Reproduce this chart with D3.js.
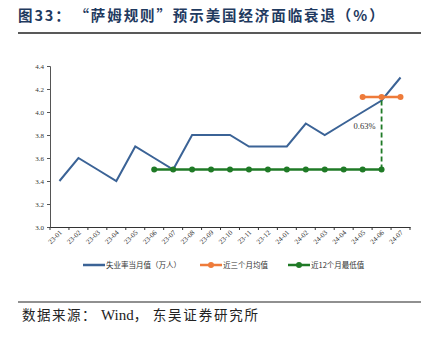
<!DOCTYPE html>
<html><head><meta charset="utf-8">
<script src="https://cdn.jsdelivr.net/npm/d3@7"></script>
<style>body{margin:0;background:#fff}svg{display:block}</style>
</head><body>
<script>
const categories = ["23-01","23-02","23-03","23-04","23-05","23-06","23-07","23-08","23-09","23-10","23-11","23-12","24-01","24-02","24-03","24-04","24-05","24-06","24-07"];
const unemployment = [3.4,3.6,3.5,3.4,3.7,3.6,3.5,3.8,3.8,3.8,3.7,3.7,3.7,3.9,3.8,3.9,4.0,4.1,4.3];
const avg3Cats = ["24-05","24-06","24-07"];
const avg3Vals = [4.13,4.13,4.13];
const min12Cats = ["23-06","23-07","23-08","23-09","23-10","23-11","23-12","24-01","24-02","24-03","24-04","24-05","24-06"];
const min12Vals = [3.5,3.5,3.5,3.5,3.5,3.5,3.5,3.5,3.5,3.5,3.5,3.5,3.5];
const yTicks = [3.0,3.2,3.4,3.6,3.8,4.0,4.2,4.4];
const legendLabels = ["失业率当月值（万人）","近三个月均值","近12个月最低值"];
const gapLabel = "0.63%";

const W=436,H=341;
const svg=d3.select("body").append("svg").attr("width",W).attr("height",H);
const blue="#3b6396", orange="#ee7b3a", green="#1f7a26";
const serif="'Liberation Serif','DejaVu Serif',serif";
const cjk="'Noto Sans CJK SC',sans-serif";

// title
const title=svg.append("text").attr("x",18).attr("y",21).attr("font-family",cjk)
  .attr("font-size",14.5).attr("font-weight","bold").attr("fill","#1f3a5f").attr("letter-spacing",1.9);
title.append("tspan").text("图33：");
title.append("tspan").attr("dx",10).text("“萨姆规则”预示美国经济面临衰退（%）");
svg.append("line").attr("x1",18).attr("x2",421).attr("y1",33).attr("y2",33).attr("stroke","#222").attr("stroke-width",1.5);

const x=d3.scaleBand().domain(categories).range([50,410]);
const y=d3.scaleLinear().domain([3.0,4.4]).range([227,66]);
const cx=c=>x(c)+x.bandwidth()/2;

// y axis
const ya=svg.append("g").attr("transform","translate(50,0)")
  .call(d3.axisLeft(y).tickValues(yTicks).tickFormat(d3.format(".1f")).tickSize(3));
ya.select(".domain").attr("stroke","#555");
ya.selectAll(".tick line").attr("stroke","#555");
ya.selectAll("text").attr("font-family",serif).attr("font-size",7).style("fill","#333");

// x axis
const xa=svg.append("g").attr("transform","translate(0,227)")
  .call(d3.axisBottom(x).tickSize(0));
xa.select(".domain").attr("stroke","#333");
xa.selectAll(".tick line").remove();
xa.selectAll(".tick text").attr("font-family",serif).attr("font-size",7).style("fill","#333")
  .attr("text-anchor","end").attr("dy",0).attr("y",0)
  .attr("transform","translate(3,6) rotate(-45)");
// band boundary ticks
svg.append("g").selectAll("line").data(categories.concat(["end"])).join("line")
  .attr("x1",(d,i)=>50+i*x.step()).attr("x2",(d,i)=>50+i*x.step())
  .attr("y1",227).attr("y2",230).attr("stroke","#333");

// blue line
svg.append("path").datum(unemployment.map((v,i)=>[cx(categories[i]),y(v)]))
  .attr("d",d3.line()).attr("fill","none").attr("stroke",blue).attr("stroke-width",2);

// green line
svg.append("path").datum(min12Vals.map((v,i)=>[cx(min12Cats[i]),y(v)]))
  .attr("d",d3.line()).attr("fill","none").attr("stroke",green).attr("stroke-width",2.5);
svg.append("g").selectAll("circle").data(min12Vals).join("circle")
  .attr("cx",(d,i)=>cx(min12Cats[i])).attr("cy",d=>y(d)).attr("r",3).attr("fill",green);

// dashed gap
svg.append("line").attr("x1",cx("24-06")).attr("x2",cx("24-06"))
  .attr("y1",y(min12Vals[min12Vals.length-1])).attr("y2",y(avg3Vals[1]))
  .attr("stroke",green).attr("stroke-width",1.8).attr("stroke-dasharray","5,3");

// orange line
svg.append("path").datum(avg3Vals.map((v,i)=>[cx(avg3Cats[i]),y(v)]))
  .attr("d",d3.line()).attr("fill","none").attr("stroke",orange).attr("stroke-width",2.5);
svg.append("g").selectAll("circle").data(avg3Vals).join("circle")
  .attr("cx",(d,i)=>cx(avg3Cats[i])).attr("cy",d=>y(d)).attr("r",3).attr("fill",orange);

svg.append("text").attr("x",cx("24-06")-17).attr("y",y(3.88)+3).attr("text-anchor","middle")
  .attr("font-family",serif).attr("font-size",8.5).style("fill","#333").text(gapLabel);

// legend
const leg=[{x:83,c:blue,m:false},{x:200,c:orange,m:true},{x:288,c:green,m:true}];
leg.forEach((l,i)=>{
  const g=svg.append("g");
  g.append("line").attr("x1",l.x).attr("x2",l.x+22).attr("y1",265).attr("y2",265).attr("stroke",l.c).attr("stroke-width",2.5);
  if(l.m) g.append("circle").attr("cx",l.x+11).attr("cy",265).attr("r",3).attr("fill",l.c);
  g.append("text").attr("x",l.x+23).attr("y",268).attr("font-family",cjk).attr("font-size",7.5).style("fill","#333").text(legendLabels[i]);
});

// footer
svg.append("line").attr("x1",18).attr("x2",421).attr("y1",302).attr("y2",302).attr("stroke","#222").attr("stroke-width",1.2);
const foot=svg.append("text").attr("x",22).attr("y",320).attr("font-family",cjk)
  .attr("font-size",13.5).style("fill","#222");
foot.append("tspan").attr("letter-spacing",1.5).text("数据来源：");
foot.append("tspan").attr("dx",4).attr("font-family",serif).attr("font-size",15).text("Wind");
foot.append("tspan").attr("letter-spacing",1.5).text("，");
foot.append("tspan").attr("dx",4).attr("letter-spacing",1.8).text("东吴证券研究所");
</script>
</body></html>
